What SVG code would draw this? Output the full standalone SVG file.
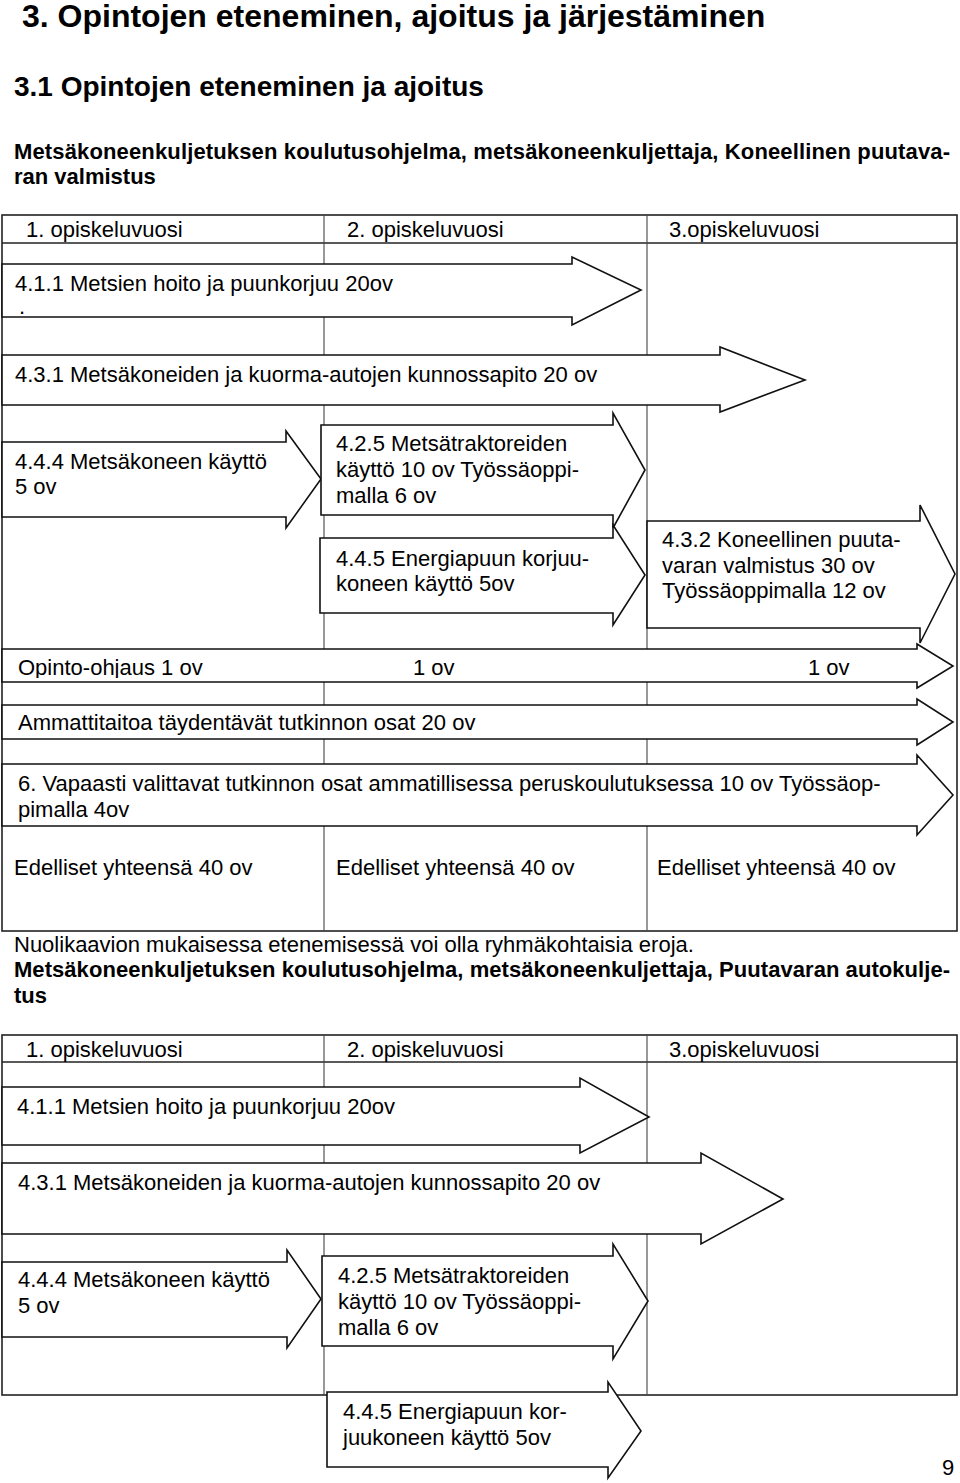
<svg xmlns="http://www.w3.org/2000/svg" width="960" height="1483" viewBox="0 0 960 1483">
<style>
.t{font-family:"Liberation Sans",Arial,sans-serif;font-size:22px;fill:#000}
.b{font-family:"Liberation Sans",Arial,sans-serif;font-weight:bold;fill:#000}
.frame{fill:none;stroke:#222;stroke-width:1.6}
.col{fill:none;stroke:#444;stroke-width:1.1}
.arr{fill:#fff;stroke:#111;stroke-width:1.6;stroke-linejoin:miter}
</style>
<defs>
<clipPath id="clipOp"><rect x="0" y="640" width="960" height="38"/></clipPath>
<clipPath id="clipAm"><rect x="0" y="700" width="960" height="35"/></clipPath>
</defs>
<rect width="960" height="1483" fill="#fff"/>

<g id="headings">
<text class="b" x="22" y="27" font-size="32">3. Opintojen eteneminen, ajoitus ja järjestäminen</text>
<text class="b" x="14" y="96" font-size="28">3.1 Opintojen eteneminen ja ajoitus</text>
<text class="b" x="14" y="159" font-size="22" textLength="936">Metsäkoneenkuljetuksen koulutusohjelma, metsäkoneenkuljettaja, Koneellinen puutava-</text>
<text class="b" x="14" y="184" font-size="22">ran valmistus</text>
</g>

<g id="table1">
<rect class="frame" x="2" y="215" width="955" height="716"/>
<line class="frame" x1="2" y1="243" x2="957" y2="243"/>
<line class="col" x1="324" y1="215" x2="324" y2="931"/>
<line class="col" x1="647" y1="215" x2="647" y2="931"/>
<text class="t" x="26" y="237">1. opiskeluvuosi</text>
<text class="t" x="347" y="237">2. opiskeluvuosi</text>
<text class="t" x="669" y="237">3.opiskeluvuosi</text>
</g>

<g id="arrow-411a">
<polygon class="arr" points="2,264 572,264 572,257 641,290 572,325 572,317 2,317"/>
<text class="t" x="15" y="291">4.1.1 Metsien hoito ja puunkorjuu 20ov</text>
<text class="t" x="19" y="314" font-size="9">.</text>
</g>
<g id="arrow-431a">
<polygon class="arr" points="2,355 720,355 720,347 805,380 720,412 720,405 2,405"/>
<text class="t" x="15" y="382">4.3.1 Metsäkoneiden ja kuorma-autojen kunnossapito 20 ov</text>
</g>
<g id="arrow-444a">
<polygon class="arr" points="2,442 286,442 286,431 321,479 286,528 286,517 2,517"/>
<text class="t" x="15" y="469">4.4.4 Metsäkoneen käyttö</text>
<text class="t" x="15" y="494">5 ov</text>
</g>
<g id="arrow-425a">
<polygon class="arr" points="321,425 613,425 613,413 645,470 613,528 613,515 321,515"/>
<text class="t" x="336" y="451">4.2.5 Metsätraktoreiden</text>
<text class="t" x="336" y="477">käyttö 10 ov Työssäoppi-</text>
<text class="t" x="336" y="503">malla 6 ov</text>
</g>
<g id="arrow-445a">
<polygon class="arr" points="320,538 613,538 613,525 645,575 613,625 613,613 320,613"/>
<text class="t" x="336" y="566">4.4.5 Energiapuun korjuu-</text>
<text class="t" x="336" y="591">koneen käyttö 5ov</text>
</g>
<g id="arrow-432a">
<polygon class="arr" points="647,521 920,521 920,505 955,574 920,643 920,628 647,628"/>
<text class="t" x="662" y="547">4.3.2 Koneellinen puuta-</text>
<text class="t" x="662" y="573">varan valmistus 30 ov</text>
<text class="t" x="662" y="598">Työssäoppimalla 12 ov</text>
</g>
<g id="arrow-opinto">
<polygon class="arr" points="2,649 917,649 917,644 953,666 917,688 917,682 2,682"/>
<g clip-path="url(#clipOp)">
<text class="t" x="18" y="675">Opinto-ohjaus 1 ov</text>
<text class="t" x="413" y="675">1 ov</text>
<text class="t" x="808" y="675">1 ov</text>
</g>
</g>
<g id="arrow-ammatti">
<polygon class="arr" points="2,705 917,705 917,699 953,722 917,745 917,739 2,739"/>
<g clip-path="url(#clipAm)">
<text class="t" x="18" y="730">Ammattitaitoa täydentävät tutkinnon osat 20 ov</text>
</g>
</g>
<g id="arrow-vapaasti">
<polygon class="arr" points="2,764 917,764 917,755 953,795 917,835 917,826 2,826"/>
<text class="t" x="18" y="791">6. Vapaasti valittavat tutkinnon osat ammatillisessa peruskoulutuksessa 10 ov Työssäop-</text>
<text class="t" x="18" y="817">pimalla 4ov</text>
</g>
<g id="totals">
<text class="t" x="14" y="875">Edelliset yhteensä 40 ov</text>
<text class="t" x="336" y="875">Edelliset yhteensä 40 ov</text>
<text class="t" x="657" y="875">Edelliset yhteensä 40 ov</text>
</g>

<g id="notes">
<text class="t" x="14" y="952">Nuolikaavion mukaisessa etenemisessä voi olla ryhmäkohtaisia eroja.</text>
<text class="b" x="14" y="977" font-size="22" textLength="936">Metsäkoneenkuljetuksen koulutusohjelma, metsäkoneenkuljettaja, Puutavaran autokulje-</text>
<text class="b" x="14" y="1003" font-size="22">tus</text>
</g>

<g id="table2">
<rect class="frame" x="2" y="1035" width="955" height="360"/>
<line class="frame" x1="2" y1="1062" x2="957" y2="1062"/>
<line class="col" x1="324" y1="1035" x2="324" y2="1395"/>
<line class="col" x1="647" y1="1035" x2="647" y2="1395"/>
<text class="t" x="26" y="1057">1. opiskeluvuosi</text>
<text class="t" x="347" y="1057">2. opiskeluvuosi</text>
<text class="t" x="669" y="1057">3.opiskeluvuosi</text>
</g>

<g id="arrow-411b">
<polygon class="arr" points="2,1087 580,1087 580,1078 649,1117 580,1153 580,1145 2,1145"/>
<text class="t" x="17" y="1114">4.1.1 Metsien hoito ja puunkorjuu 20ov</text>
</g>
<g id="arrow-431b">
<polygon class="arr" points="2,1163 701,1163 701,1153 783,1199 701,1244 701,1234 2,1234"/>
<text class="t" x="18" y="1190">4.3.1 Metsäkoneiden ja kuorma-autojen kunnossapito 20 ov</text>
</g>
<g id="arrow-444b">
<polygon class="arr" points="2,1262 287,1262 287,1250 321,1299 287,1348 287,1337 2,1337"/>
<text class="t" x="18" y="1287">4.4.4 Metsäkoneen käyttö</text>
<text class="t" x="18" y="1313">5 ov</text>
</g>
<g id="arrow-425b">
<polygon class="arr" points="322,1256 613,1256 613,1244 648,1301 613,1359 613,1346 322,1346"/>
<text class="t" x="338" y="1283">4.2.5 Metsätraktoreiden</text>
<text class="t" x="338" y="1309">käyttö 10 ov Työssäoppi-</text>
<text class="t" x="338" y="1335">malla 6 ov</text>
</g>
<g id="arrow-445b">
<polygon class="arr" points="327,1392 608,1392 608,1382 641,1431 608,1478 608,1467 327,1467"/>
<text class="t" x="343" y="1419">4.4.5 Energiapuun kor-</text>
<text class="t" x="343" y="1445">juukoneen käyttö 5ov</text>
</g>

<text class="t" x="942" y="1475">9</text>
</svg>
